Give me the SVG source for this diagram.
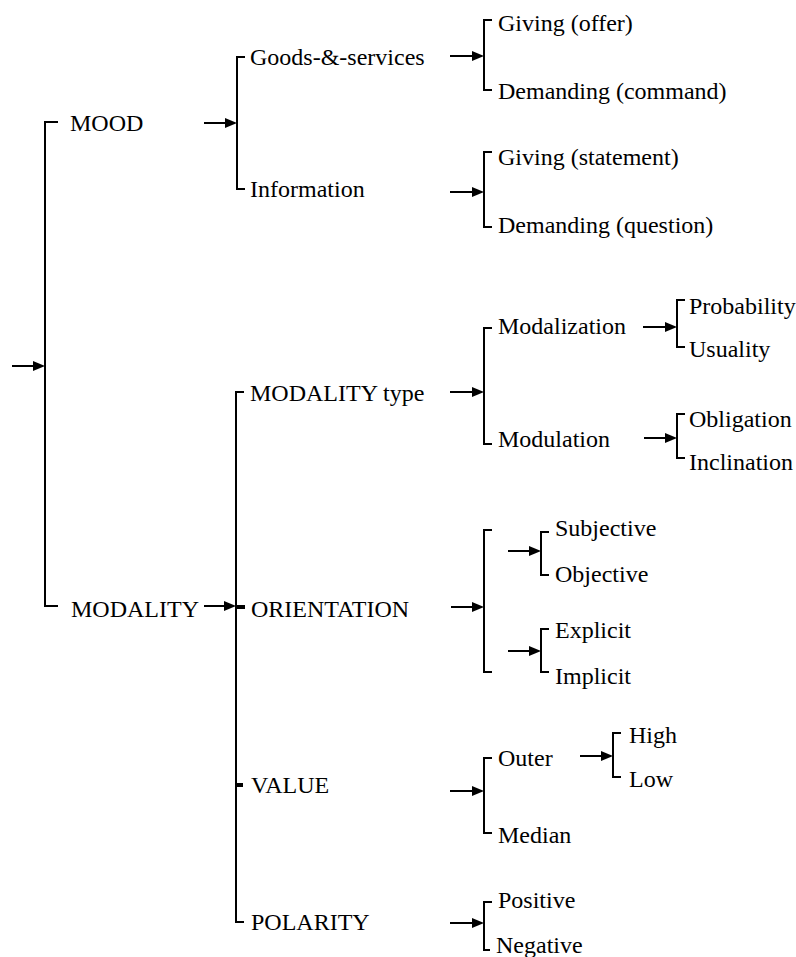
<svg xmlns="http://www.w3.org/2000/svg" width="796" height="957" viewBox="0 0 796 957">
  <rect width="796" height="957" fill="#fff"/>

  <!-- connectors: bracket lines, arrow shafts, arrowheads -->
  <g id="connectors">
    <g fill="none" stroke="#000" stroke-width="2">
      <!-- entry -->
      <path d="M12,366 H36"/>
      <path d="M58,122 H45 V606 H58"/>
      <!-- MOOD branch -->
      <path d="M204,123 H228"/>
      <path d="M245,57 H237 V189 H245"/>
      <path d="M450,56 H475"/>
      <path d="M492,20 H484 V90 H492"/>
      <path d="M450,192 H475"/>
      <path d="M492,152 H484 V227 H492"/>
      <!-- MODALITY branch -->
      <path d="M204,606 H227"/>
      <path d="M244,392 H236 V922 H244"/>
      <!-- MODALITY type -->
      <path d="M450,392 H475"/>
      <path d="M492,328 H484 V444 H492"/>
      <path d="M643,327 H668"/>
      <path d="M685,300 H677 V347 H685"/>
      <path d="M644,438 H668"/>
      <path d="M685,414 H677 V458 H685"/>
      <!-- ORIENTATION -->
      <path d="M451,607 H475"/>
      <path d="M492,530 H484 V672 H492"/>
      <path d="M508,551 H532"/>
      <path d="M549,532 H541 V575 H549"/>
      <path d="M508,651 H532"/>
      <path d="M549,629 H541 V672 H549"/>
      <!-- VALUE -->
      <path d="M450,791 H475"/>
      <path d="M492,758 H484 V833 H492"/>
      <path d="M580,756 H604"/>
      <path d="M621,733 H613 V777 H621"/>
      <!-- POLARITY -->
      <path d="M450,923 H475"/>
      <path d="M492,902 H484 V950 H490"/>
    </g>
    <!-- thick stubs on the MODALITY bracket -->
    <g stroke="#000" stroke-width="4">
      <path d="M236,607 H245"/>
      <path d="M236,785 H243"/>
    </g>
    <!-- arrowheads -->
    <g fill="#000">
      <path d="M33,361 L45,366 L33,371 Z"/>
      <path d="M225,118 L237,123 L225,128 Z"/>
      <path d="M472,51 L484,56 L472,61 Z"/>
      <path d="M472,187 L484,192 L472,197 Z"/>
      <path d="M224,601 L236,606 L224,611 Z"/>
      <path d="M472,387 L484,392 L472,397 Z"/>
      <path d="M665,322 L677,327 L665,332 Z"/>
      <path d="M665,433 L677,438 L665,443 Z"/>
      <path d="M472,602 L484,607 L472,612 Z"/>
      <path d="M529,546 L541,551 L529,556 Z"/>
      <path d="M529,646 L541,651 L529,656 Z"/>
      <path d="M472,786 L484,791 L472,796 Z"/>
      <path d="M601,751 L613,756 L601,761 Z"/>
      <path d="M472,918 L484,923 L472,928 Z"/>
    </g>
  </g>

  <!-- nodes -->
  <g id="n-mood"><text x="70" y="131" style="font-family: 'Liberation Serif', serif; font-size: 24px">MOOD</text></g>
  <g id="n-modality"><text x="71" y="617" style="font-family: 'Liberation Serif', serif; font-size: 24px">MODALITY</text></g>

  <g id="n-goods"><text x="250" y="65" style="font-family: 'Liberation Serif', serif; font-size: 24px">Goods-&amp;-services</text></g>
  <g id="n-information"><text x="250" y="197" style="font-family: 'Liberation Serif', serif; font-size: 24px">Information</text></g>
  <g id="n-giving-offer"><text x="498" y="31" style="font-family: 'Liberation Serif', serif; font-size: 24px">Giving (offer)</text></g>
  <g id="n-demanding-command"><text x="498" y="99" style="font-family: 'Liberation Serif', serif; font-size: 24px">Demanding (command)</text></g>
  <g id="n-giving-statement"><text x="498" y="165" style="font-family: 'Liberation Serif', serif; font-size: 24px">Giving (statement)</text></g>
  <g id="n-demanding-question"><text x="498" y="233" style="font-family: 'Liberation Serif', serif; font-size: 24px">Demanding (question)</text></g>

  <g id="n-modality-type"><text x="250" y="401" style="font-family: 'Liberation Serif', serif; font-size: 24px">MODALITY type</text></g>
  <g id="n-modalization"><text x="498" y="334" style="font-family: 'Liberation Serif', serif; font-size: 24px">Modalization</text></g>
  <g id="n-modulation"><text x="498" y="447" style="font-family: 'Liberation Serif', serif; font-size: 24px">Modulation</text></g>
  <g id="n-probability"><text x="689" y="314" style="font-family: 'Liberation Serif', serif; font-size: 24px">Probability</text></g>
  <g id="n-usuality"><text x="689" y="357" style="font-family: 'Liberation Serif', serif; font-size: 24px">Usuality</text></g>
  <g id="n-obligation"><text x="689" y="427" style="font-family: 'Liberation Serif', serif; font-size: 24px">Obligation</text></g>
  <g id="n-inclination"><text x="689" y="470" style="font-family: 'Liberation Serif', serif; font-size: 24px">Inclination</text></g>

  <g id="n-orientation"><text x="251" y="617" style="font-family: 'Liberation Serif', serif; font-size: 24px">ORIENTATION</text></g>
  <g id="n-subjective"><text x="555" y="536" style="font-family: 'Liberation Serif', serif; font-size: 24px">Subjective</text></g>
  <g id="n-objective"><text x="555" y="582" style="font-family: 'Liberation Serif', serif; font-size: 24px">Objective</text></g>
  <g id="n-explicit"><text x="555" y="638" style="font-family: 'Liberation Serif', serif; font-size: 24px">Explicit</text></g>
  <g id="n-implicit"><text x="555" y="684" style="font-family: 'Liberation Serif', serif; font-size: 24px">Implicit</text></g>

  <g id="n-value"><text x="251" y="793" style="font-family: 'Liberation Serif', serif; font-size: 24px">VALUE</text></g>
  <g id="n-outer"><text x="498" y="766" style="font-family: 'Liberation Serif', serif; font-size: 24px">Outer</text></g>
  <g id="n-median"><text x="498" y="843" style="font-family: 'Liberation Serif', serif; font-size: 24px">Median</text></g>
  <g id="n-high"><text x="629" y="743" style="font-family: 'Liberation Serif', serif; font-size: 24px">High</text></g>
  <g id="n-low"><text x="629" y="787" style="font-family: 'Liberation Serif', serif; font-size: 24px">Low</text></g>

  <g id="n-polarity"><text x="251" y="930" style="font-family: 'Liberation Serif', serif; font-size: 24px">POLARITY</text></g>
  <g id="n-positive"><text x="498" y="908" style="font-family: 'Liberation Serif', serif; font-size: 24px">Positive</text></g>
  <g id="n-negative"><text x="496" y="953" style="font-family: 'Liberation Serif', serif; font-size: 24px">Negative</text></g>
</svg>
